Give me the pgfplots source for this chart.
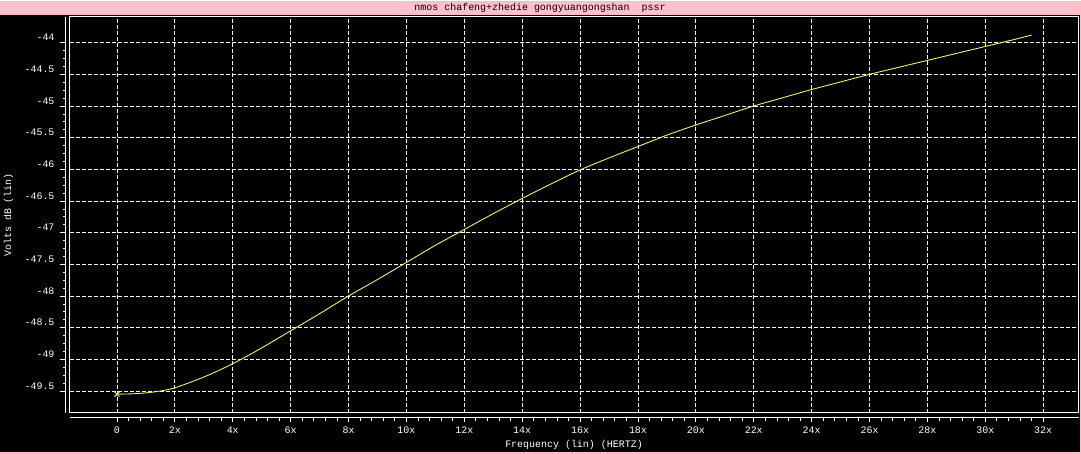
\documentclass[border=0pt]{standalone}
\usepackage{fontspec}
\setmainfont{Liberation Mono}
\usepackage{pgfplots}
\pgfplotsset{compat=1.18}
\definecolor{pinkbar}{RGB}{255,192,203}
\definecolor{curve}{RGB}{240,240,110}
\begin{document}
\begin{tikzpicture}[x=1bp,y=1bp]
\fill[black] (0,0) rectangle (1081,453);
\fill[pinkbar] (0,439) rectangle (1081,453);
\fill[pinkbar] (1079.5,0) rectangle (1081,453);
\fill[pinkbar] (0,0) rectangle (1081,1.5);
\node[font=\fontsize{10}{12}\selectfont, text=black] at (540,446) {nmos chafeng+zhedie gongyuangongshan~~pssr};
\node[font=\fontsize{10}{12}\selectfont, text=white, rotate=90] at (8.5,239) {Volts dB (lin)};
\node[font=\fontsize{10}{12}\selectfont, text=white] at (574,9) {Frequency (lin) (HERTZ)};
% main plot box
\begin{axis}[at={(69.5bp,41bp)}, anchor=south west, scale only axis,
  width=1009bp, height=396bp,
  xmin=-1.64, xmax=33.22, ymin=-49.847, ymax=-43.594,
  axis line style={white, line width=1bp},
  xtick={0,2,4,6,8,10,12,14,16,18,20,22,24,26,28,30,32},
  ytick={-49.5,-49,-48.5,-48,-47.5,-47,-46.5,-46,-45.5,-45,-44.5,-44},
  xticklabels={}, yticklabels={}, major tick length=0pt,
  grid=major, major grid style={white, dash pattern=on 4bp off 2bp, line width=0.8bp},
  axis background/.style={fill=black}]
\addplot[curve, line width=0.9bp, smooth, tension=0.5] coordinates {
(0,-49.55) (0.5,-49.545) (1,-49.53) (1.5,-49.50) (2,-49.45) (3,-49.28) (4,-49.07)
(5,-48.82) (6,-48.55) (7,-48.28) (8,-48.00) (9,-47.74) (10,-47.47) (11,-47.20)
(12,-46.95) (13,-46.70) (14,-46.46) (15,-46.23) (16,-46.01) (17,-45.82) (18,-45.64)
(19,-45.46) (20,-45.30) (21,-45.15) (22,-45.00) (23,-44.87) (24,-44.74) (25,-44.62)
(26,-44.50) (27,-44.39) (28,-44.28) (29,-44.17) (30,-44.06) (31,-43.95) (31.6,-43.88)};
\addplot[curve, only marks, mark=x, mark size=3.5bp, mark options={line width=0.9bp}] coordinates {(0,-49.55)};
\end{axis}
% x ruler
\begin{axis}[at={(69.5bp,36bp)}, anchor=south west, scale only axis,
  width=1009bp, height=1bp,
  xmin=-1.64, xmax=33.22, ymin=0, ymax=1,
  axis x line=bottom, axis y line=none,
  x axis line style={white, -, line width=1bp},
  xtick={0,2,4,6,8,10,12,14,16,18,20,22,24,26,28,30,32},
  xticklabels={0,2x,4x,6x,8x,10x,12x,14x,16x,18x,20x,22x,24x,26x,28x,30x,32x},
  minor x tick num=4, tick align=outside,
  major tick length=4bp, minor tick length=3bp,
  every tick/.style={white, line width=0.8bp},
  xticklabel style={text=white, font=\fontsize{10}{12}\selectfont, anchor=center, yshift=-8bp}]
\end{axis}
% y ruler
\begin{axis}[at={(65bp,41bp)}, anchor=south west, scale only axis,
  width=1bp, height=396bp,
  xmin=0, xmax=1, ymin=-49.847, ymax=-43.594,
  axis y line=left, axis x line=none,
  y axis line style={white, -, line width=1bp},
  ytick={-49.5,-49,-48.5,-48,-47.5,-47,-46.5,-46,-45.5,-45,-44.5,-44},
  yticklabels={-49.5,-49,-48.5,-48,-47.5,-47,-46.5,-46,-45.5,-45,-44.5,-44},
  minor y tick num=3, tick align=outside,
  major tick length=5bp, minor tick length=2.5bp,
  every tick/.style={white, line width=0.8bp},
  yticklabel style={text=white, font=\fontsize{10}{12}\selectfont, anchor=east, xshift=-2bp, yshift=5bp}]
\end{axis}
\end{tikzpicture}
\end{document}
